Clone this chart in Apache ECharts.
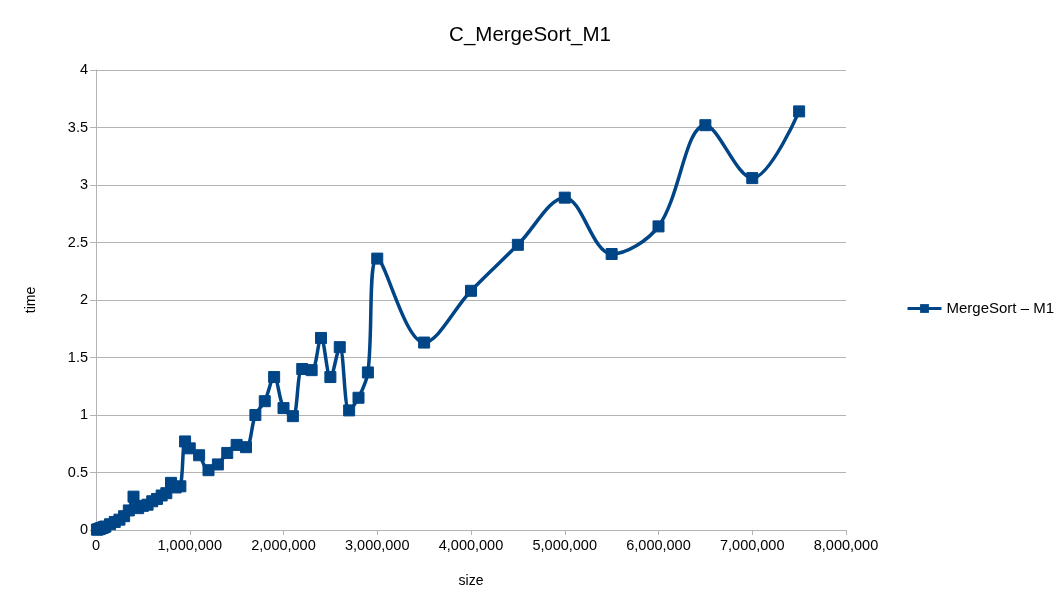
<!DOCTYPE html>
<html>
<head>
<meta charset="utf-8">
<script src="https://cdn.jsdelivr.net/npm/echarts@6/dist/echarts.min.js"></script>
<style>
  html, body { margin: 0; padding: 0; background: #fff; }
  #chart { width: 1060px; height: 603px; }
</style>
</head>
<body>
<div id="chart"></div>
<script>
// 数据
const sizes = [
  10000, 20000, 30000, 40000, 50000, 60000, 70000, 80000, 90000, 100000,
  150000, 200000, 250000, 300000, 350000, 400000, 450000, 500000, 550000, 600000,
  650000, 700000, 750000, 800000, 850000, 900000, 950000, 1000000,
  1100000, 1200000, 1300000, 1400000, 1500000, 1600000, 1700000, 1800000, 1900000, 2000000,
  2100000, 2200000, 2300000, 2400000, 2500000, 2600000, 2700000, 2800000, 2900000, 3000000,
  3500000, 4000000, 4500000, 5000000, 5500000, 6000000, 6500000, 7000000, 7500000
];
const times = [
  0.003, 0.005, 0.008, 0.011, 0.014, 0.017, 0.02, 0.023, 0.027, 0.03,
  0.05, 0.07, 0.09, 0.12, 0.17, 0.29, 0.19, 0.21, 0.22, 0.25,
  0.27, 0.3, 0.32, 0.41, 0.37, 0.38, 0.77, 0.71,
  0.65, 0.52, 0.57, 0.67, 0.74, 0.72, 1.0, 1.12, 1.33, 1.06,
  0.99, 1.4, 1.39, 1.67, 1.33, 1.59, 1.04, 1.15, 1.37, 2.36,
  1.63, 2.08, 2.48, 2.89, 2.4, 2.64, 3.52, 3.06, 3.64
];
const seriesName = 'MergeSort – M1';

const chart = echarts.init(document.getElementById('chart'));
const font = 'Liberation Sans, Arial, sans-serif';

chart.setOption({
  animation: false,
  backgroundColor: '#fff',
  textStyle: { fontFamily: font },
  title: {
    text: 'C_MergeSort_M1',
    left: 'center',
    top: 20,
    textStyle: { fontFamily: font, fontSize: 20.5, fontWeight: 'normal', color: '#000' }
  },
  legend: {
    orient: 'vertical',
    left: 906,
    top: 301,
    padding: 0,
    itemWidth: 34,
    itemHeight: 11,
    itemGap: 6,
    textStyle: { fontFamily: font, fontSize: 15, color: '#000' },
    lineStyle: { width: 3 },
    data: [seriesName]
  },
  grid: { left: 96, right: 214, top: 70, bottom: 73, containLabel: false },
  xAxis: {
    type: 'value',
    min: 0,
    max: 8000000,
    interval: 1000000,
    name: 'size',
    nameLocation: 'middle',
    nameGap: 44,
    nameTextStyle: { fontFamily: font, fontSize: 14, color: '#000' },
    axisLine: { show: true, lineStyle: { color: '#b3b3b3' } },
    axisTick: { show: true, length: 5, lineStyle: { color: '#b3b3b3' } },
    axisLabel: {
      color: '#000', fontSize: 14.5, fontFamily: font, margin: 8,
      formatter: v => v.toLocaleString('en-US')
    },
    splitLine: { show: false }
  },
  yAxis: {
    type: 'value',
    min: 0,
    max: 4,
    interval: 0.5,
    name: 'time',
    nameLocation: 'middle',
    nameRotate: 90,
    nameGap: 58,
    nameTextStyle: { fontFamily: font, fontSize: 14, color: '#000' },
    axisLine: { show: true, lineStyle: { color: '#b3b3b3' } },
    axisTick: { show: true, length: 6, lineStyle: { color: '#b3b3b3' } },
    axisLabel: { color: '#000', fontSize: 14.5, fontFamily: font, margin: 8 },
    splitLine: { show: true, lineStyle: { color: '#b3b3b3' } }
  },
  series: [{
    name: seriesName,
    type: 'line',
    data: sizes.map((s, i) => [s, times[i]]),
    smooth: 0.35,
    symbol: 'rect',
    symbolSize: 11,
    showAllSymbol: true,
    lineStyle: { color: '#004586', width: 3.5 },
    itemStyle: { color: '#004586', borderColor: '#004586' }
  }]
});
</script>
</body>
</html>
